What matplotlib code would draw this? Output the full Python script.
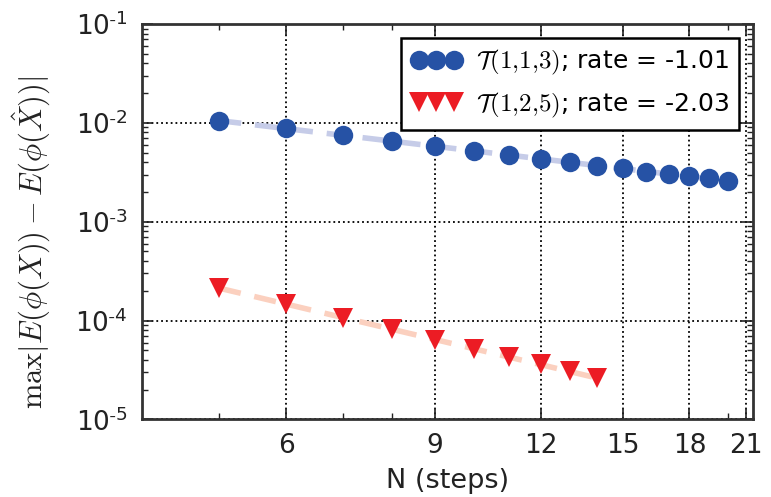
import matplotlib
matplotlib.use("Agg")
import matplotlib.pyplot as plt
from matplotlib.ticker import FixedLocator, FuncFormatter, NullFormatter
import numpy as np

plt.rcParams['mathtext.fontset'] = 'cm'
plt.rcParams['font.family'] = 'DejaVu Sans'

# data
n_blue = np.arange(5, 21)
err_blue = [0.0105, 0.00879, 0.00752, 0.00658, 0.00578, 0.00521, 0.00474, 0.00430,
            0.00398, 0.00367, 0.00346, 0.00322, 0.00301, 0.00287, 0.00274, 0.00259]
n_red = np.arange(5, 15)
err_red = [2.13e-4, 1.48e-4, 1.07e-4, 8.21e-5, 6.41e-5, 5.15e-5, 4.31e-5, 3.60e-5,
           3.06e-5, 2.62e-5]
label_blue = r'$\mathcal{T}(1{,}1{,}3)$; rate = -1.01'
label_red = r'$\mathcal{T}(1{,}2{,}5)$; rate = -2.03'
xticks = [6, 9, 12, 15, 18, 21]

fig = plt.figure(figsize=(7.71, 4.97), dpi=100)
ax = fig.add_axes([0.1838, 0.156, 0.7929, 0.7957])

# fitted lines (log-log least squares)
pb = np.polyfit(np.log(n_blue), np.log(err_blue), 1)
pr = np.polyfit(np.log(n_red), np.log(err_red), 1)
ax.plot(n_blue, np.exp(np.polyval(pb, np.log(n_blue))), '--', color='#c6cce8',
        lw=4, dashes=(4, 2.5), zorder=2)
ax.plot(n_red, np.exp(np.polyval(pr, np.log(n_red))), '--', color='#fbd0bf',
        lw=4, dashes=(4, 2.5), zorder=2)

ax.plot(n_blue, err_blue, 'o', color='#2652a5', ms=14, mew=0, label=label_blue, zorder=3)
ax.plot(n_red, err_red, 'v', color='#ec1c24', ms=14, mew=0, label=label_red, zorder=3)

ax.set_xscale('log')
ax.set_yscale('log')
ax.set_xlim(4.05, 21.4)
ax.set_ylim(1e-5, 1e-1)

ax.xaxis.set_major_locator(FixedLocator(xticks))
ax.xaxis.set_major_formatter(FuncFormatter(lambda v, p: '%d' % v))
ax.xaxis.set_minor_formatter(NullFormatter())
ax.yaxis.set_major_formatter(FuncFormatter(
    lambda v, p: r'$\mathdefault{10^{\text{-}%d}}$' % int(round(-np.log10(v)))))

ax.tick_params(which='both', direction='in', top=True, right=True, labelsize=19, colors='#222222')
ax.tick_params(which='major', length=8, width=1.2, pad=10)
ax.tick_params(which='minor', length=4, width=1)
for s in ax.spines.values():
    s.set_linewidth(2)
    s.set_color('#333333')

ax.grid(True, which='major', color='black', linestyle=':', linewidth=1.3)

ax.set_xlabel('N (steps)', fontsize=19.5, color='#222222', labelpad=6)
ax.set_ylabel(r'$\max|E(\phi(X))-E(\phi(\hat{X}))|$', fontsize=22, color='#222222')
ax.yaxis.set_label_coords(-0.145, 0.449)

leg = ax.legend(loc='upper right', numpoints=3, fontsize=18, fancybox=False,
                borderaxespad=0.55, handletextpad=0.6, handlelength=2.0,
                labelspacing=0.55, framealpha=1)
leg.get_frame().set_edgecolor('black')
leg.get_frame().set_linewidth(1.8)

fig.savefig('out.png', dpi=100)
